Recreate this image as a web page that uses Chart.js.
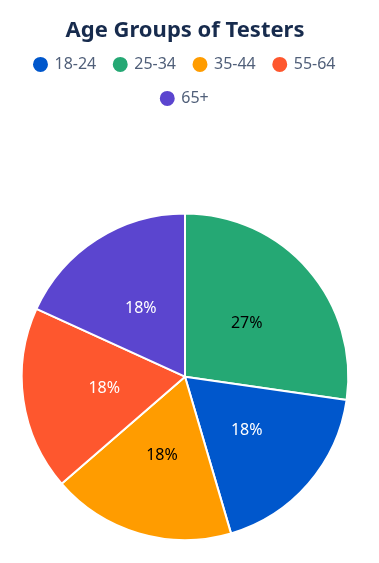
<!DOCTYPE html>
<html>
<head>
<meta charset="utf-8">
<script src="https://cdn.jsdelivr.net/npm/chart.js@4.4.1/dist/chart.umd.min.js"></script>
<style>
  html, body { margin: 0; padding: 0; background: #fff; }
  #wrap { position: relative; width: 379px; height: 563px; }
</style>
</head>
<body>
<div id="wrap"><canvas id="ageChart"></canvas></div>
<script>
// Data (drawn clockwise from the top, legend sorted by label)
const ageLabels = ['25-34', '18-24', '35-44', '55-64', '65+'];
const testerCounts = [3, 2, 2, 2, 2];
const sliceColors = ['#25a874', '#0057cc', '#ff9c00', '#fe572e', '#5b45cf'];
const labelColors = ['#000000', '#ffffff', '#000000', '#ffffff', '#ffffff'];

const FONT = "'Noto Sans', 'Open Sans', sans-serif";
const LEGEND_GAP = 96; // extra space under the legend

// Draw the percentage in the middle of each slice
const percentLabels = {
    id: 'percentLabels',
    afterDatasetsDraw(chart) {
        const ctx = chart.ctx;
        const meta = chart.getDatasetMeta(0);
        const total = testerCounts.reduce((a, b) => a + b, 0);
        ctx.save();
        ctx.font = '16px ' + FONT;
        ctx.textAlign = 'center';
        ctx.textBaseline = 'middle';
        meta.data.forEach((arc, i) => {
            const pos = arc.tooltipPosition();
            ctx.fillStyle = labelColors[i];
            ctx.fillText(Math.round(testerCounts[i] / total * 100) + '%', pos.x, pos.y);
        });
        ctx.restore();
    }
};

// Push the pie down below the legend
const legendMargin = {
    id: 'legendMargin',
    beforeInit(chart) {
        const fit = chart.legend.fit;
        chart.legend.fit = function () {
            fit.bind(chart.legend)();
            this.height += LEGEND_GAP;
        };
    }
};

const ctx = document.getElementById('ageChart').getContext('2d');
new Chart(ctx, {
    type: 'pie',
    data: {
        labels: ageLabels,
        datasets: [{
            data: testerCounts,
            backgroundColor: sliceColors,
            borderColor: '#ffffff',
            borderWidth: 2
        }]
    },
    options: {
        responsive: true,
        maintainAspectRatio: false,
        animation: false,
        layout: { padding: { left: 0, right: 9, top: 0, bottom: 22 } },
        plugins: {
            title: {
                display: true,
                text: 'Age Groups of Testers',
                color: '#172b4d',
                font: { family: FONT, size: 22, weight: 'bold' },
                padding: { top: 18, bottom: -6 }
            },
            legend: {
                position: 'top',
                labels: {
                    usePointStyle: true,
                    pointStyle: 'circle',
                    boxWidth: 12,
                    boxHeight: 12,
                    padding: 18,
                    color: '#505f79',
                    font: { family: FONT, size: 16 },
                    sort: (a, b) => a.text.localeCompare(b.text)
                }
            },
            tooltip: { enabled: false }
        }
    },
    plugins: [percentLabels, legendMargin]
});
</script>
</body>
</html>
